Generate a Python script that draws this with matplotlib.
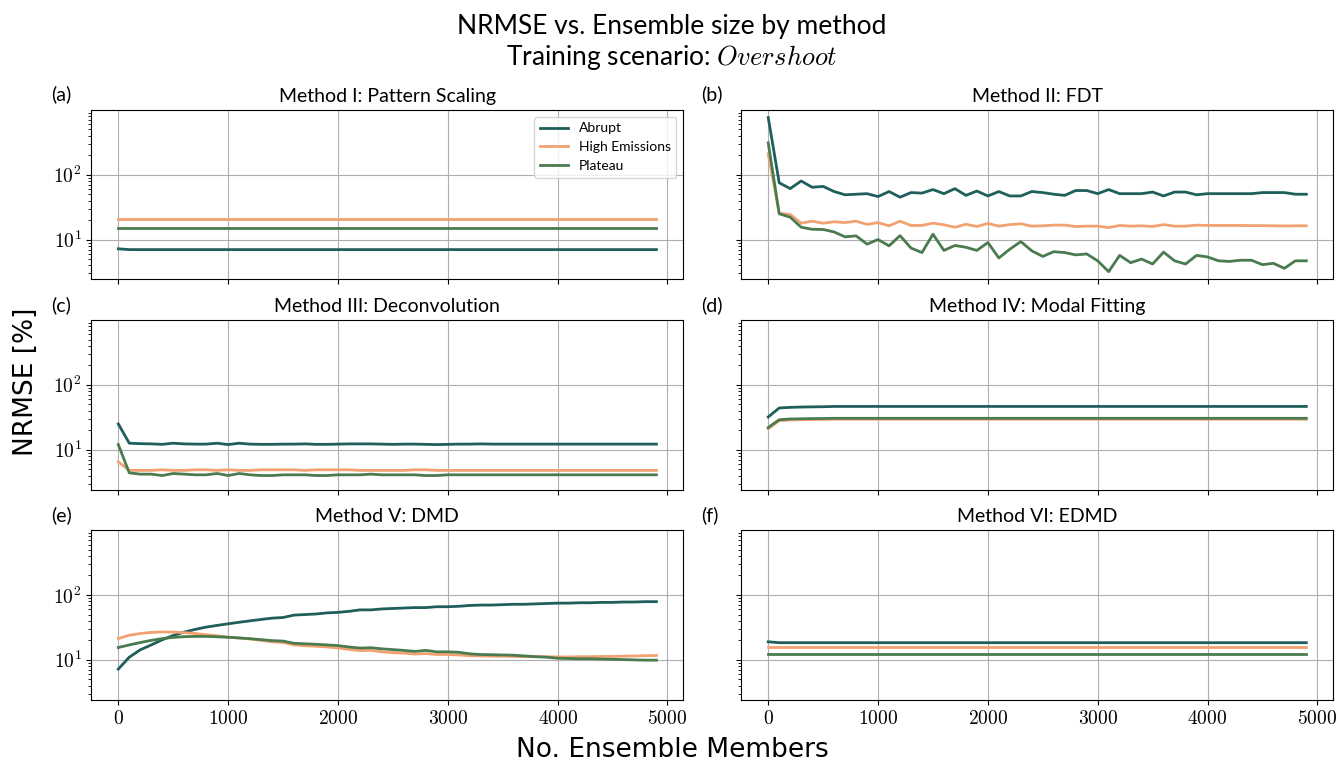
import math
import matplotlib
matplotlib.use('Agg')
import matplotlib.pyplot as plt
from matplotlib.ticker import FuncFormatter, MultipleLocator

plt.rcParams['mathtext.fontset'] = 'cm'

members = list(range(0, 5000, 100))

# Method I: Pattern Scaling
ps_abrupt = [7.2] + [7.0] * 49
ps_high = [21.0] * 50
ps_plateau = [15.2] * 50

# Method II: FDT
fdt_abrupt = [760, 75, 61, 80, 64, 66, 55, 49, 50, 51, 46, 55, 45, 53, 52, 59, 51, 61, 48, 56,
              47, 55, 47, 47, 55, 53, 50, 48, 57, 57, 51, 59, 51, 51, 51, 54, 47, 54, 54, 49,
              51, 51, 51, 51, 51, 53, 53, 53, 50, 50]
fdt_high = [210, 25.5, 24.4, 17.9, 19.2, 17.9, 18.8, 18.3, 19.2, 17.1, 18.3, 16.3, 19.2, 16.5, 16.5,
            17.9, 16.9, 15.5, 17.2, 15.9, 17.7, 16.1, 17.0, 17.5, 16.1, 16.3, 16.7, 16.7, 15.9, 16.1,
            16.1, 15.3, 16.5, 16.1, 16.3, 15.9, 17.0, 16.1, 16.1, 16.7, 16.5, 16.5, 16.5, 16.5, 16.4,
            16.4, 16.3, 16.2, 16.3, 16.3]
fdt_plateau = [309, 25, 22.1, 15.5, 14.4, 14.3, 13.1, 11.0, 11.4, 8.5, 10.0, 8.0, 11.5, 7.4, 6.3,
               12.1, 6.8, 8.1, 7.6, 6.8, 9.0, 5.2, 7.1, 9.3, 6.7, 5.5, 6.5, 6.3, 5.8, 6.0,
               4.7, 3.2, 5.7, 4.4, 5.0, 4.2, 6.4, 4.7, 4.2, 5.7, 5.4, 4.7, 4.6, 4.8, 4.8,
               4.1, 4.3, 3.6, 4.7, 4.7]

# Method III: Deconvolution
dc_abrupt = [25, 12.6, 12.4, 12.3, 12.1, 12.6, 12.3, 12.2, 12.2, 12.6, 12.0, 12.6, 12.2, 12.1, 12.1,
             12.2, 12.2, 12.3, 12.1, 12.1, 12.2, 12.3, 12.3, 12.3, 12.2, 12.1, 12.2, 12.2, 12.1, 12.0,
             12.1, 12.2, 12.2, 12.3, 12.2, 12.2, 12.2, 12.2, 12.2, 12.2, 12.2, 12.2, 12.2, 12.2, 12.2,
             12.2, 12.2, 12.2, 12.2, 12.2]
dc_high = [6.5, 4.8, 4.8, 4.8, 4.9, 4.8, 4.8, 4.9, 4.9, 4.8, 4.9, 4.8, 4.8, 4.9, 4.9,
           4.9, 4.9, 4.8, 4.9, 4.9, 4.9, 4.9, 4.8, 4.8, 4.8, 4.8, 4.8, 4.9, 4.9, 4.8,
           4.8, 4.8, 4.8, 4.8, 4.8, 4.8, 4.8, 4.8, 4.8, 4.8, 4.8, 4.8, 4.8, 4.8, 4.8,
           4.8, 4.8, 4.8, 4.8, 4.8]
dc_plateau = [12, 4.4, 4.2, 4.2, 4.0, 4.3, 4.2, 4.1, 4.1, 4.3, 4.0, 4.3, 4.1, 4.0, 4.0,
              4.1, 4.1, 4.1, 4.0, 4.0, 4.1, 4.1, 4.1, 4.2, 4.1, 4.1, 4.1, 4.1, 4.0, 4.0,
              4.1, 4.1, 4.1, 4.1, 4.1, 4.1, 4.1, 4.1, 4.1, 4.1, 4.1, 4.1, 4.1, 4.1, 4.1,
              4.1, 4.1, 4.1, 4.1, 4.1]

# Method IV: Modal Fitting
mf_abrupt = [32, 44, 45, 45.5, 45.8, 46] + [46.5] * 44
mf_high = [21, 28, 28.8, 29.0, 29.2, 29.3] + [29.5] * 44
mf_plateau = [22, 29, 29.8, 30.0, 30.2, 30.3] + [30.5] * 44

# Method V: DMD
dmd_abrupt = [7.2, 11, 14.3, 17, 20.4, 23.8, 26.8, 29.5, 32, 34, 36, 38, 40, 42, 44,
              45, 49, 50, 51, 53, 54, 56, 59, 59, 61, 62, 63, 64, 64, 66,
              66, 67, 69, 70, 70, 71, 72, 72, 73, 74, 75, 75, 76, 76, 77,
              77, 78, 78, 79, 79]
dmd_high = [21.3, 24, 25.5, 26.5, 27, 26.8, 26.3, 25.5, 24.5, 23.5, 22.5, 21.7, 21, 20, 19,
            18.5, 17, 16.5, 16.2, 15.8, 15.3, 14.5, 13.9, 14, 13.3, 12.9, 12.7, 12.3, 12.5, 12.1,
            12.1, 11.9, 11.6, 11.5, 11.4, 11.4, 11.3, 11.2, 11.2, 11.2, 11.1, 11.1, 11.2, 11.2, 11.3,
            11.3, 11.4, 11.5, 11.6, 11.7]
dmd_plateau = [15.5, 17, 18.5, 20, 21.3, 22.2, 22.8, 23, 23, 22.7, 22.3, 21.8, 21.2, 20.5, 19.8,
               19.5, 18, 17.7, 17.4, 17, 16.6, 15.8, 15.2, 15.4, 14.8, 14.4, 14, 13.5, 14, 13.3,
               13.3, 13.1, 12.4, 12.1, 12, 11.9, 11.8, 11.5, 11.2, 11, 10.6, 10.5, 10.4, 10.4, 10.3,
               10.2, 10.1, 10.0, 9.9, 9.9]

# Method VI: EDMD
edmd_abrupt = [19.0] + [18.4] * 49
edmd_high = [15.8] * 50
edmd_plateau = [12.3] * 50

titles = ['Method I: Pattern Scaling', 'Method II: FDT', 'Method III: Deconvolution',
          'Method IV: Modal Fitting', 'Method V: DMD', 'Method VI: EDMD']
panel_labels = ['(a)', '(b)', '(c)', '(d)', '(e)', '(f)']
series_names = ['Abrupt', 'High Emissions', 'Plateau']
colors = ['#1e5e5b', '#f2a271', '#4a7b4f']

data = [
    (ps_abrupt, ps_high, ps_plateau),
    (fdt_abrupt, fdt_high, fdt_plateau),
    (dc_abrupt, dc_high, dc_plateau),
    (mf_abrupt, mf_high, mf_plateau),
    (dmd_abrupt, dmd_high, dmd_plateau),
    (edmd_abrupt, edmd_high, edmd_plateau),
]

fig, axes = plt.subplots(3, 2, figsize=(13.44, 7.63), dpi=100, sharex=True, sharey=True)
fig.subplots_adjust(left=0.068, right=0.992, top=0.856, bottom=0.083, wspace=0.098, hspace=0.24)

for i, ax in enumerate(axes.flat):
    for vals, name, c in zip(data[i], series_names, colors):
        ax.plot(members, vals, color=c, lw=2, label=name)
    ax.set_yscale('log')
    ax.grid(True, color='#b0b0b0', lw=0.8)
    ax.set_title(titles[i], fontsize=14, family='Lato')
    ax.text(-0.068, 1.09, panel_labels[i], transform=ax.transAxes,
            fontsize=14, family='Lato', va='center', ha='left')
    ax.xaxis.set_major_locator(MultipleLocator(1000))
    ax.xaxis.set_major_formatter(FuncFormatter(lambda v, p: r'$%d$' % v))
    ax.yaxis.set_major_formatter(FuncFormatter(lambda v, p: r'$10^{%d}$' % round(math.log10(v))))
    ax.tick_params(labelsize=14)

axes[0, 0].legend(loc='upper right', prop={'family': 'Lato', 'size': 10})

fig.suptitle('NRMSE vs. Ensemble size by method\nTraining scenario: $Overshoot$',
             fontsize=19, family='Lato', y=0.982)
fig.supxlabel('No. Ensemble Members', fontsize=19, y=0.0)
fig.supylabel('NRMSE [%]', fontsize=19, x=0.01)

fig.savefig('out.png', dpi=100)
